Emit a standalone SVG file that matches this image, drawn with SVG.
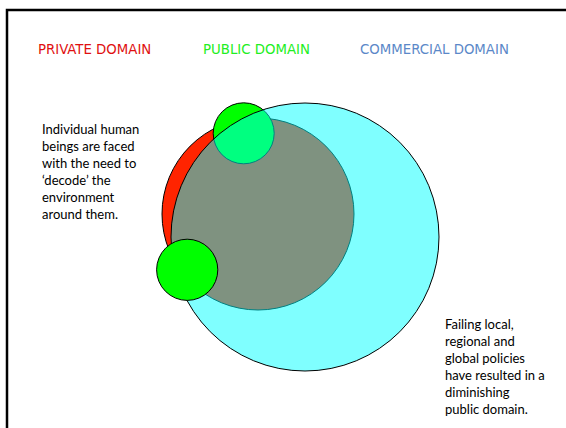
<svg xmlns="http://www.w3.org/2000/svg" width="566" height="428" viewBox="0 0 566 428">
<style>
.hd{font-family:"DejaVu Sans Condensed","DejaVu Sans",sans-serif;font-size:14.8px}
.bd{font-family:Lato,"Open Sans",sans-serif;font-size:13px;fill:#000}
.c{stroke:#000;stroke-width:1}
</style>
<rect x="0" y="0" width="566" height="428" fill="#fff"/>
<rect x="7" y="10" width="600" height="450" fill="none" stroke="#000" stroke-width="2.5"/>
<text class="hd" x="38" y="54" fill="#E01010">PRIVATE DOMAIN</text>
<text class="hd" x="203" y="54" fill="#22EE22">PUBLIC DOMAIN</text>
<text class="hd" x="360" y="54" fill="#5B88C8">COMMERCIAL DOMAIN</text>
<g id="private"><circle class="c" cx="258" cy="214" r="96" fill="#FF2400"/></g>
<g id="public-top"><circle class="c" cx="243.7" cy="133.3" r="30.5" fill="#00FF00"/></g>
<g id="commercial"><circle cx="305" cy="237" r="134" fill="#00FFFF" fill-opacity="0.5" stroke="#000" stroke-width="1"/></g>
<g id="public-bottom"><circle class="c" cx="187.2" cy="269.8" r="30.6" fill="#00FF00"/></g>
<g id="note-left">
<text class="bd" x="42" y="134">Individual human</text>
<text class="bd" x="42" y="151">beings are faced</text>
<text class="bd" x="42" y="168">with the need to</text>
<text class="bd" x="42" y="185">‘decode’ the</text>
<text class="bd" x="42" y="202">environment</text>
<text class="bd" x="42" y="219">around them.</text>
</g>
<g id="note-right">
<text class="bd" x="445" y="329">Failing local,</text>
<text class="bd" x="445" y="346">regional and</text>
<text class="bd" x="445" y="363">global policies</text>
<text class="bd" x="445" y="380">have resulted in a</text>
<text class="bd" x="445" y="397">diminishing</text>
<text class="bd" x="445" y="414">public domain.</text>
</g>
<g id="connectors"/>
</svg>
